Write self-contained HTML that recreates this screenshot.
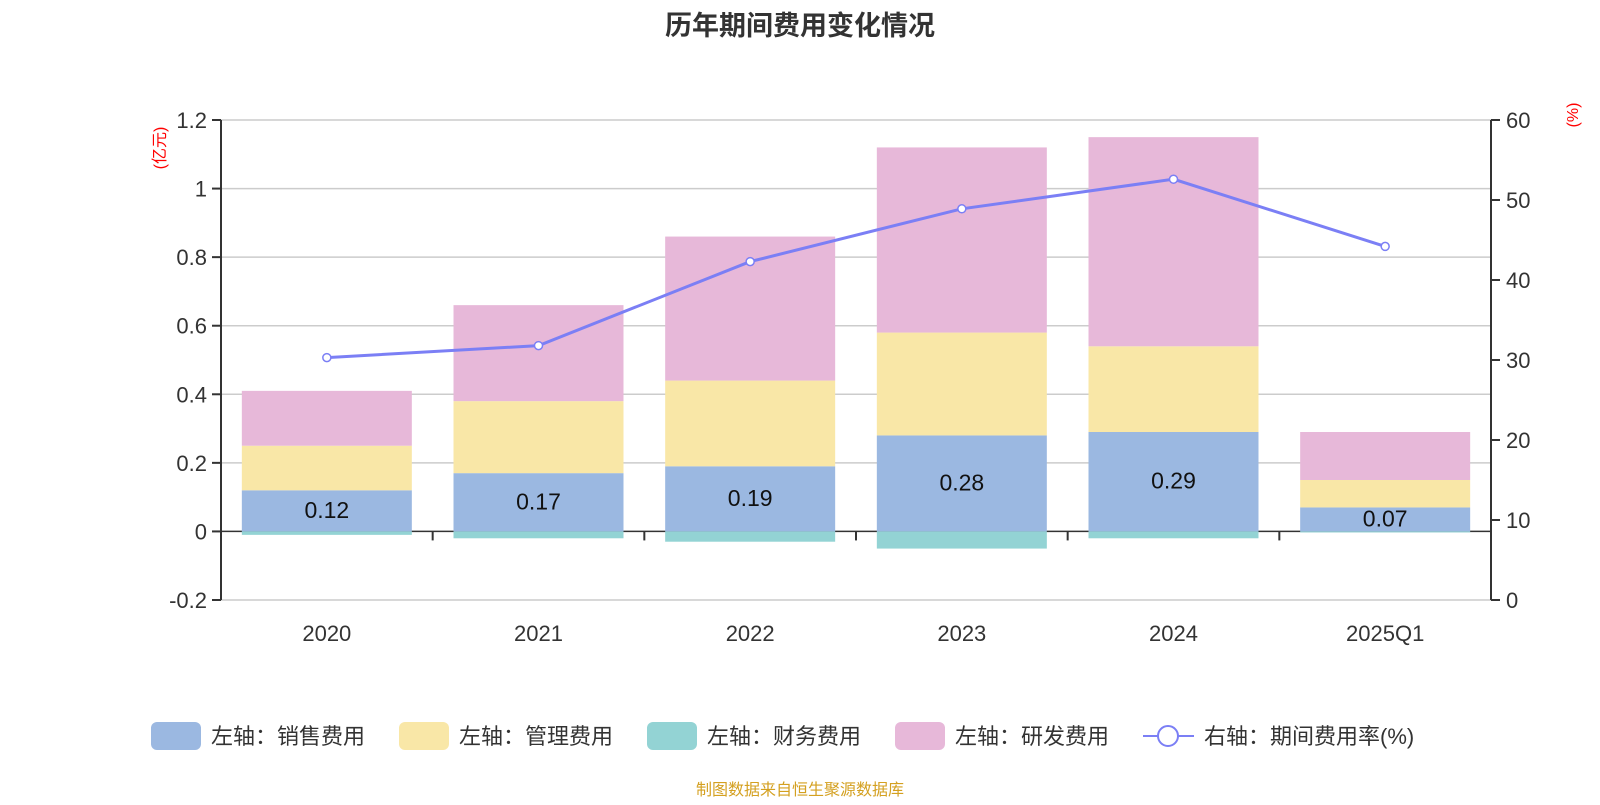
<!DOCTYPE html>
<html><head><meta charset="utf-8"><style>
body{margin:0;background:#fff;width:1600px;height:800px;overflow:hidden;font-family:"Liberation Sans","Noto Sans CJK SC",sans-serif}
</style></head><body>
<svg id="chart" width="1600" height="800" xmlns="http://www.w3.org/2000/svg" font-family="Liberation Sans, Noto Sans CJK SC, sans-serif">
<text x="800" y="35" text-anchor="middle" font-size="27" font-weight="bold" fill="#333">历年期间费用变化情况</text>
<text transform="translate(165,148) rotate(-90)" text-anchor="middle" font-size="16" fill="red">(亿元)</text>
<text transform="translate(1578,115) rotate(-90)" text-anchor="middle" font-size="16" fill="red">(%)</text>
<g id="grid"></g><g id="bars"></g><g id="axes"></g><g id="line"></g>
<g font-size="22" fill="#333">
<g><rect x="151" y="722" width="50" height="28" rx="6" fill="#9bb8e1"/><text x="211" y="744">左轴：销售费用</text></g>
<g><rect x="399" y="722" width="50" height="28" rx="6" fill="#f9e7a7"/><text x="459" y="744">左轴：管理费用</text></g>
<g><rect x="647" y="722" width="50" height="28" rx="6" fill="#93d3d4"/><text x="707" y="744">左轴：财务费用</text></g>
<g><rect x="895" y="722" width="50" height="28" rx="6" fill="#e7b8d9"/><text x="955" y="744">左轴：研发费用</text></g>
<g><line x1="1143" y1="736" x2="1194" y2="736" stroke="#7b7ff5" stroke-width="2"/><circle cx="1168" cy="736" r="10" fill="#fff" stroke="#7b7ff5" stroke-width="2"/><text x="1204" y="744">右轴：期间费用率(%)</text></g>
</g>
<text x="800" y="795" text-anchor="middle" font-size="16" fill="#d4a020">制图数据来自恒生聚源数据库</text>
</svg>
<script>
const categories=["2020","2021","2022","2023","2024","2025Q1"];
const sales=[0.12,0.17,0.19,0.28,0.29,0.07];
const management=[0.13,0.21,0.25,0.30,0.25,0.08];
const finance=[-0.01,-0.02,-0.03,-0.05,-0.02,-0.003];
const rd=[0.16,0.28,0.42,0.54,0.61,0.14];
const rate=[30.3,31.8,42.3,48.9,52.6,44.2];
const leftTicks=[-0.2,0,0.2,0.4,0.6,0.8,1,1.2];
const rightTicks=[0,10,20,30,40,50,60];
const NS="http://www.w3.org/2000/svg";
const L=221,R=1491,T=120,B=600;
const yL=v=>B-(v+0.2)/1.4*(B-T);
const yR=v=>B-v/60*(B-T);
const bw=(R-L)/categories.length;
const xC=i=>L+bw*(i+0.5);
function mk(p,tag,a){const e=document.createElementNS(NS,tag);for(const k in a)e.setAttribute(k,a[k]);document.getElementById(p).appendChild(e);return e;}
leftTicks.forEach(v=>{const y=yL(v);
const g=mk('grid','line',{x1:L,x2:R,y1:y,y2:y,stroke:v===0?'#333':'#ccc','stroke-width':1.5});

const t=mk('axes','text',{x:L-14,y:y+8,'text-anchor':'end','font-size':22,fill:'#333'});t.textContent=String(v);

mk('axes','line',{x1:L-9,x2:L,y1:y,y2:y,stroke:'#333','stroke-width':2});});
rightTicks.forEach(v=>{const y=yR(v);
mk('axes','line',{x1:R,x2:R+9,y1:y,y2:y,stroke:'#333','stroke-width':2});
const t=mk('axes','text',{x:R+15,y:y+8,'font-size':22,fill:'#333'});t.textContent=String(v);
});
let a=mk('axes','line',{x1:L,x2:L,y1:T,y2:B,stroke:'#333','stroke-width':2});
a=mk('axes','line',{x1:R,x2:R,y1:T,y2:B,stroke:'#333','stroke-width':2});
for(let i=0;i<=categories.length;i++){const x=L+bw*i;mk('axes','line',{x1:x,x2:x,y1:yL(0),y2:yL(0)+9,stroke:'#333','stroke-width':2});}
const W=170;
categories.forEach((c,i)=>{const x=xC(i)-W/2;
const segs=[[0,sales[i],'#9bb8e1','bar-sales'],[sales[i],sales[i]+management[i],'#f9e7a7','bar-management'],[sales[i]+management[i],sales[i]+management[i]+rd[i],'#e7b8d9','bar-rd'],[finance[i],0,'#93d3d4','bar-finance']];
segs.forEach(s=>{const r=mk('bars','rect',{x:x,width:W,y:yL(s[1]),height:yL(s[0])-yL(s[1]),fill:s[2]});
});
const t=mk('bars','text',{x:xC(i),y:(yL(0)+yL(sales[i]))/2+7,'text-anchor':'middle','font-size':23,fill:'#111'});t.textContent=sales[i].toFixed(2);

const xl=mk('axes','text',{x:xC(i),y:641,'text-anchor':'middle','font-size':22,fill:'#333'});xl.textContent=c;
});
const pl=mk('line','polyline',{points:rate.map((v,i)=>xC(i)+','+yR(v)).join(' '),fill:'none',stroke:'#7b7ff5','stroke-width':3});

rate.forEach((v,i)=>{const p=mk('line','circle',{cx:xC(i),cy:yR(v),r:4,fill:'#fff',stroke:'#7b7ff5','stroke-width':1.5});
});
</script>
</body></html>
